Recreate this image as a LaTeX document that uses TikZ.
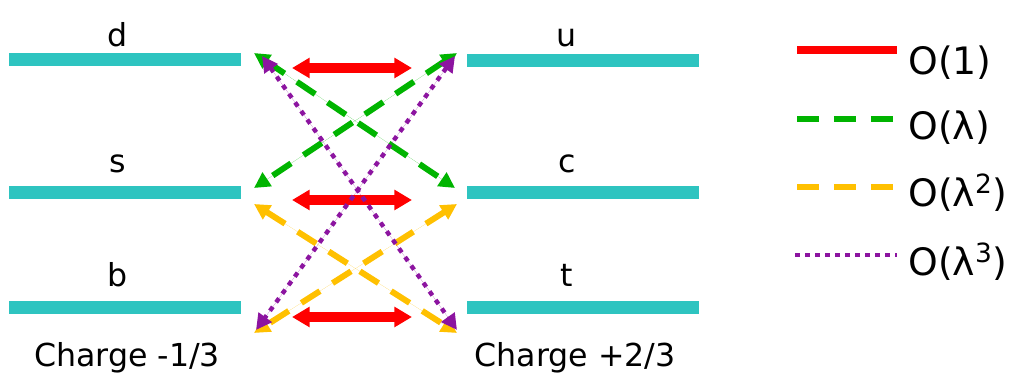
\documentclass[tikz,border=0pt]{standalone}
\usepackage{fontspec}
\setmainfont{DejaVu Sans}
\usetikzlibrary{arrows.meta}
\definecolor{barc}{RGB}{46,196,192}
\definecolor{redc}{RGB}{255,0,0}
\definecolor{greenc}{RGB}{0,180,0}
\definecolor{yelc}{RGB}{255,192,0}
\definecolor{purc}{RGB}{140,20,160}
\tikzset{
  bar/.style={fill=barc, draw=none, inner sep=0pt, minimum width=4.64cm, minimum height=0.26cm},
  lbl/.style={anchor=base, inner sep=0pt, font=\fontsize{18}{20}\selectfont},
  leg/.style={anchor=base west, inner sep=0pt, font=\fontsize{21.5}{24}\selectfont},
  redarr/.style={draw=redc, line width=5.5pt, {Triangle[length=10pt,width=11pt]}-{Triangle[length=10pt,width=11pt]}},
  greenarr/.style={draw=greenc, fill=greenc, line width=3.4pt, dash pattern=on 12.5pt off 8.5pt, {Triangle[length=9pt,width=9pt]}-{Triangle[length=9pt,width=9pt]}},
  yelarr/.style={draw=yelc, fill=yelc, line width=3.4pt, dash pattern=on 12.5pt off 8.5pt, {Triangle[length=9pt,width=9pt]}-{Triangle[length=9pt,width=9pt]}},
  purarr/.style={draw=purc, fill=purc, line width=2.5pt, dash pattern=on 2.8pt off 3.2pt, {Triangle[length=9pt,width=9pt]}-{Triangle[length=9pt,width=9pt]}},
  legred/.style={draw=redc, line width=4pt},
  leggreen/.style={draw=greenc, line width=3.4pt, dash pattern=on 12.5pt off 8.5pt},
  legyel/.style={draw=yelc, line width=3.4pt, dash pattern=on 12.5pt off 8.5pt},
  legpur/.style={draw=purc, line width=2.4pt, dash pattern=on 2.8pt off 2.9pt}
}
\begin{document}
\begin{tikzpicture}[x=0.02cm,y=-0.02cm]
\useasboundingbox (0,0) rectangle (1015,391);
% bars
\node[bar] (d) at (125,60) {};
\node[bar] (s) at (125,193) {};
\node[bar] (b) at (125,308) {};
\node[bar] (u) at (583,61) {};
\node[bar] (c) at (583,193) {};
\node[bar] (t) at (583,308) {};
% labels
\node[lbl] (dl) at (118,47) {d};
\node[lbl] (sl) at (118,173) {s};
\node[lbl] (bl) at (118,287) {b};
\node[lbl] (ul) at (567,47) {u};
\node[lbl] (cl) at (567,173) {c};
\node[lbl] (tl) at (567,287) {t};
\node[lbl] (chl) at (127,367) {Charge -1/3};
\node[lbl] (chr) at (575,367) {Charge +2/3};
% endpoints
\coordinate (rdL) at (292,68);  \coordinate (rdR) at (412,68);
\coordinate (rsL) at (292,200); \coordinate (rsR) at (412,200);
\coordinate (rbL) at (292,317); \coordinate (rbR) at (412,317);
\coordinate (gdL) at (254,53);  \coordinate (gcR) at (455,188);
\coordinate (guR) at (457,53);  \coordinate (gsL) at (254,188);
\coordinate (ysL) at (254,204); \coordinate (ytR) at (457,333);
\coordinate (ycR) at (457,204); \coordinate (ybL) at (254,333);
\coordinate (pdL) at (262,56);  \coordinate (ptR) at (457,330);
\coordinate (puR) at (455,56);  \coordinate (pbL) at (256,330);
% connectors
\draw[redarr] (rdL) -- (rdR);
\draw[redarr] (rsL) -- (rsR);
\draw[redarr] (rbL) -- (rbR);
\draw[yelarr] (ysL) -- (ytR);
\draw[yelarr] (ycR) -- (ybL);
\draw[greenarr] (gdL) -- (gcR);
\draw[greenarr] (guR) -- (gsL);
\draw[purarr] (pdL) -- (ptR);
\draw[purarr] (puR) -- (pbL);
% legend
\coordinate (l1a) at (797,50);  \coordinate (l1b) at (897,50);
\coordinate (l2a) at (797,119); \coordinate (l2b) at (897,119);
\coordinate (l3a) at (797,187); \coordinate (l3b) at (897,187);
\coordinate (l4a) at (795,255); \coordinate (l4b) at (897,255);
\draw[legred] (l1a) -- (l1b);
\draw[leggreen] (l2a) -- (l2b);
\draw[legyel] (l3a) -- (l3b);
\draw[legpur] (l4a) -- (l4b);
\node[leg] (o1) at (908,75) {O(1)};
\node[leg] (o2) at (908,140) {O(λ)};
\node[leg] (o3) at (908,207) {O(λ\textsuperscript{2})};
\node[leg] (o4) at (908,276) {O(λ\textsuperscript{3})};
\end{tikzpicture}
\end{document}
